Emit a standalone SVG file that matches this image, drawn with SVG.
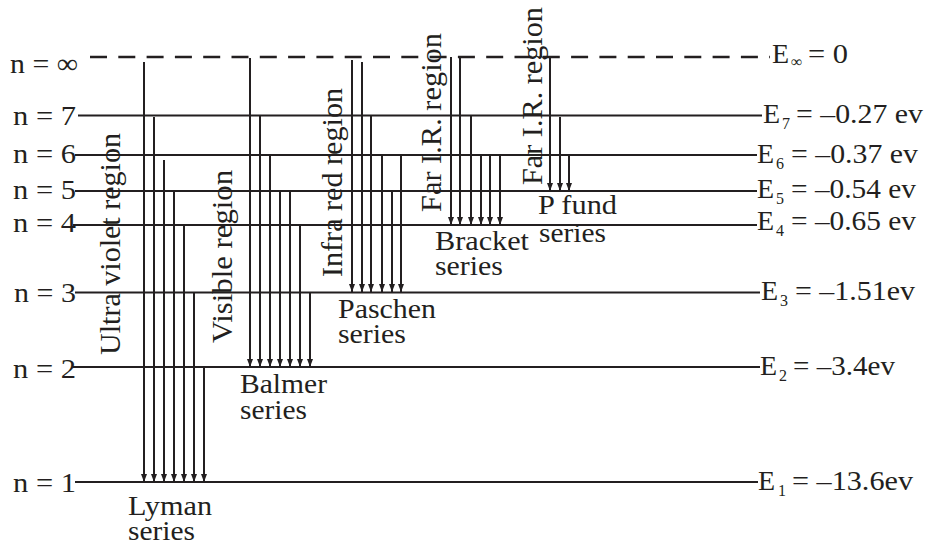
<svg xmlns="http://www.w3.org/2000/svg" width="927" height="546" viewBox="0 0 927 546" font-family="'Liberation Serif', 'Times New Roman', Times, serif">
<defs>
<marker id="ah" viewBox="0 0 8 6" refX="8" refY="3" markerWidth="8" markerHeight="6" markerUnits="userSpaceOnUse" orient="auto"><path d="M0,0 L8,3 L0,6 z" fill="#231f20"/></marker>
</defs>
<style>
text{font-family:'Liberation Serif','Times New Roman',Times,serif;fill:#231f20}
.t{font-size:28px}
.s{font-size:16px}
.r{font-size:30px}
.lv{stroke:#231f20;stroke-width:2;fill:none}
.dash{stroke:#231f20;stroke-width:2.6;stroke-dasharray:17 11.3;fill:none}
.ar{stroke:#231f20;stroke-width:2;fill:none;marker-end:url(#ah)}
</style>
<rect width="927" height="546" fill="#fff"/>

<g id="level-inf">
<line class="dash" x1="90" y1="57" x2="770" y2="57"/>
<text class="t" x="10" y="73" textLength="68" lengthAdjust="spacingAndGlyphs">n = ∞</text>
<text class="t" x="772" y="63">E</text><text class="s" x="791" y="67">∞</text>
<text class="t" x="808" y="63" textLength="40" lengthAdjust="spacingAndGlyphs">= 0</text>
</g>
<g id="level-7">
<line class="lv" x1="78" y1="115.5" x2="762" y2="115.5"/>
<text class="t" x="13" y="125" textLength="63" lengthAdjust="spacingAndGlyphs">n = 7</text>
<text class="t" x="763" y="123">E</text><text class="s" x="782" y="129">7</text>
<text class="t" x="796" y="123" textLength="127" lengthAdjust="spacingAndGlyphs">= –0.27 ev</text>
</g>
<g id="level-6">
<line class="lv" x1="75" y1="155" x2="757" y2="155"/>
<text class="t" x="13" y="163" textLength="63" lengthAdjust="spacingAndGlyphs">n = 6</text>
<text class="t" x="757" y="163">E</text><text class="s" x="776" y="169">6</text>
<text class="t" x="791" y="163" textLength="127" lengthAdjust="spacingAndGlyphs">= –0.37 ev</text>
</g>
<g id="level-5">
<line class="lv" x1="75" y1="191" x2="757" y2="191"/>
<text class="t" x="13" y="199" textLength="63" lengthAdjust="spacingAndGlyphs">n = 5</text>
<text class="t" x="757" y="198">E</text><text class="s" x="776" y="204">5</text>
<text class="t" x="791" y="198" textLength="125" lengthAdjust="spacingAndGlyphs">= –0.54 ev</text>
</g>
<g id="level-4">
<line class="lv" x1="73" y1="225" x2="757" y2="225"/>
<text class="t" x="13" y="232" textLength="63" lengthAdjust="spacingAndGlyphs">n = 4</text>
<text class="t" x="757" y="230">E</text><text class="s" x="776" y="236">4</text>
<text class="t" x="791" y="230" textLength="125" lengthAdjust="spacingAndGlyphs">= –0.65 ev</text>
</g>
<g id="level-3">
<line class="lv" x1="75" y1="292.5" x2="760" y2="292.5"/>
<text class="t" x="14" y="302" textLength="62" lengthAdjust="spacingAndGlyphs">n = 3</text>
<text class="t" x="761" y="300">E</text><text class="s" x="780" y="306">3</text>
<text class="t" x="795" y="300" textLength="120" lengthAdjust="spacingAndGlyphs">= –1.51ev</text>
</g>
<g id="level-2">
<line class="lv" x1="73" y1="367" x2="760" y2="367"/>
<text class="t" x="13" y="378" textLength="63" lengthAdjust="spacingAndGlyphs">n = 2</text>
<text class="t" x="760" y="375">E</text><text class="s" x="779" y="381">2</text>
<text class="t" x="793" y="375" textLength="102" lengthAdjust="spacingAndGlyphs">= –3.4ev</text>
</g>
<g id="level-1">
<line class="lv" x1="75" y1="482" x2="758" y2="482"/>
<text class="t" x="13" y="492" textLength="63" lengthAdjust="spacingAndGlyphs">n = 1</text>
<text class="t" x="758" y="490">E</text><text class="s" x="778" y="496">1</text>
<text class="t" x="792" y="490" textLength="121" lengthAdjust="spacingAndGlyphs">= –13.6ev</text>
</g>

<g id="connectors">
<g id="lyman-arrows">
<line class="ar" x1="144" y1="62" x2="144" y2="482"/>
<line class="ar" x1="154" y1="117" x2="154" y2="482"/>
<line class="ar" x1="164" y1="160" x2="164" y2="482"/>
<line class="ar" x1="174" y1="191" x2="174" y2="482"/>
<line class="ar" x1="184" y1="225" x2="184" y2="482"/>
<line class="ar" x1="194" y1="292" x2="194" y2="482"/>
<line class="ar" x1="204" y1="367" x2="204" y2="482"/>
</g>
<g id="balmer-arrows">
<line class="ar" x1="250" y1="58" x2="250" y2="367"/>
<line class="ar" x1="260" y1="116" x2="260" y2="367"/>
<line class="ar" x1="270" y1="155" x2="270" y2="367"/>
<line class="ar" x1="280" y1="191" x2="280" y2="367"/>
<line class="ar" x1="290" y1="191" x2="290" y2="367"/>
<line class="ar" x1="300" y1="225" x2="300" y2="367"/>
<line class="ar" x1="310" y1="292" x2="310" y2="367"/>
</g>
<g id="paschen-arrows">
<line class="ar" x1="352" y1="60" x2="352" y2="292"/>
<line class="ar" x1="362" y1="62" x2="362" y2="292"/>
<line class="ar" x1="371" y1="115" x2="371" y2="292"/>
<line class="ar" x1="382" y1="155" x2="382" y2="292"/>
<line class="ar" x1="392" y1="191" x2="392" y2="292"/>
<line class="ar" x1="401" y1="155" x2="401" y2="292"/>
</g>
<g id="bracket-arrows">
<line class="ar" x1="451" y1="57" x2="451" y2="225"/>
<line class="ar" x1="460" y1="57" x2="460" y2="225"/>
<line class="ar" x1="471" y1="115" x2="471" y2="225"/>
<line class="ar" x1="481" y1="155" x2="481" y2="225"/>
<line class="ar" x1="490" y1="155" x2="490" y2="225"/>
<line class="ar" x1="500" y1="155" x2="500" y2="225"/>
</g>
<g id="pfund-arrows">
<line class="ar" x1="550" y1="57" x2="550" y2="191"/>
<line class="ar" x1="560" y1="117" x2="560" y2="191"/>
<line class="ar" x1="569" y1="155" x2="569" y2="191"/>
</g>
</g>

<g id="lyman-label">
<text class="t"><tspan x="128" y="515" textLength="84" lengthAdjust="spacingAndGlyphs">Lyman</tspan><tspan x="128" y="540" textLength="67" lengthAdjust="spacingAndGlyphs">series</tspan></text>
</g>
<g id="balmer-label">
<text class="t"><tspan x="240" y="393" textLength="87" lengthAdjust="spacingAndGlyphs">Balmer</tspan><tspan x="240" y="419" textLength="67" lengthAdjust="spacingAndGlyphs">series</tspan></text>
</g>
<g id="paschen-label">
<text class="t"><tspan x="338" y="318" textLength="98" lengthAdjust="spacingAndGlyphs">Paschen</tspan><tspan x="338" y="343" textLength="68" lengthAdjust="spacingAndGlyphs">series</tspan></text>
</g>
<g id="bracket-label">
<text class="t"><tspan x="435" y="250" textLength="94" lengthAdjust="spacingAndGlyphs">Bracket</tspan><tspan x="435" y="275" textLength="68" lengthAdjust="spacingAndGlyphs">series</tspan></text>
</g>
<g id="pfund-label">
<text class="t"><tspan x="538" y="214" textLength="79" lengthAdjust="spacingAndGlyphs">P fund</tspan><tspan x="539" y="242" textLength="67" lengthAdjust="spacingAndGlyphs">series</tspan></text>
</g>

<g id="region-uv"><text class="r" transform="translate(120,355) rotate(-90)" textLength="222" lengthAdjust="spacingAndGlyphs">Ultra violet region</text></g>
<g id="region-visible"><text class="r" transform="translate(232,343) rotate(-90)" textLength="173" lengthAdjust="spacingAndGlyphs">Visible region</text></g>
<g id="region-ir"><text class="r" transform="translate(342,277) rotate(-90)" textLength="189" lengthAdjust="spacingAndGlyphs">Infra red region</text></g>
<g id="region-far-ir-1"><text class="r" transform="translate(441,212) rotate(-90)" textLength="179" lengthAdjust="spacingAndGlyphs">Far I.R. region</text></g>
<g id="region-far-ir-2"><text class="r" transform="translate(542,185) rotate(-90)" textLength="178" lengthAdjust="spacingAndGlyphs">Far I.R. region</text></g>
</svg>
